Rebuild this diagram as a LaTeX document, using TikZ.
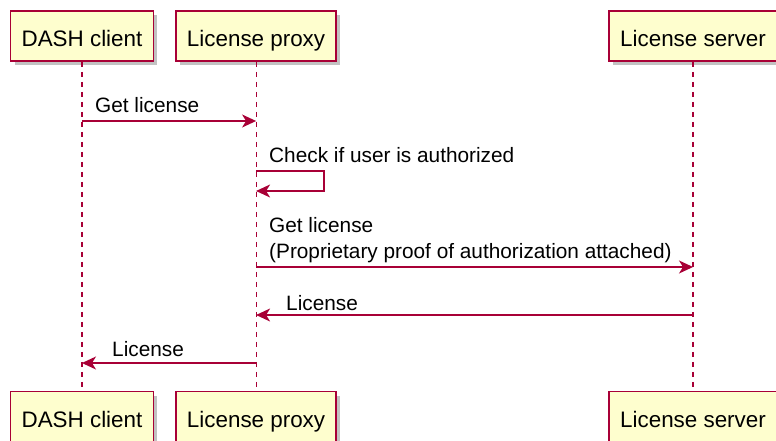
\documentclass[tikz,border=0pt]{standalone}
\usepackage{fontspec}
\setmainfont{Liberation Sans}
\definecolor{UmlRed}{HTML}{A80036}
\definecolor{UmlFill}{HTML}{FEFECE}
\usetikzlibrary{arrows.meta, positioning, shadows}

\begin{document}
\begin{tikzpicture}[
            x=1pt, y=-1pt,
            actor/.style={rectangle, draw=UmlRed, line width=1.6pt, fill=UmlFill,
                          minimum height=50pt, inner xsep=11pt,
                          text height=23pt, text depth=2pt,
                          font=\fontsize{22.4}{26}\selectfont,
                          drop shadow={shadow xshift=4pt, shadow yshift=-4pt, opacity=0.4, fill=black!60}},
            lifeline/.style={UmlRed, line width=1.1pt, dash pattern=on 5pt off 5pt},
            msg/.style={-{Stealth[length=14pt, width=13pt, inset=4pt]}, UmlRed, line width=1.3pt},
            lbl/.style={inner sep=0pt, align=left, font=\fontsize{20.8}{26}\selectfont}
        ]
            \useasboundingbox (0,0) rectangle (776,441);

            \node[actor] (dashTop) at (82,36) {DASH client};
            \node[actor, right=21pt of dashTop] (proxyTop) {License proxy};
            \node[actor] (serverTop) at (693,36) {License server};

            \node[actor, below=329pt of dashTop] (dashBot) {DASH client};
            \node[actor, below=329pt of proxyTop] (proxyBot) {License proxy};
            \node[actor, below=329pt of serverTop] (serverBot) {License server};

            \draw[lifeline] (dashTop) -- (dashBot);
            \draw[lifeline] (proxyTop) -- (proxyBot);
            \draw[lifeline] (serverTop) -- (serverBot);

            % message end points on the lifelines
            \coordinate (c1) at (dashTop |- 0,121);
            \coordinate (p1) at (proxyTop |- 0,121);
            \coordinate (p2) at (proxyTop |- 0,171);
            \coordinate (p3) at (proxyTop |- 0,191);
            \coordinate (p4) at (proxyTop |- 0,267);
            \coordinate (s4) at (serverTop |- 0,267);
            \coordinate (s5) at (serverTop |- 0,315);
            \coordinate (p5) at (proxyTop |- 0,315);
            \coordinate (p6) at (proxyTop |- 0,363);
            \coordinate (c6) at (dashTop |- 0,363);

            \draw[msg] (c1) -- (p1);
            \draw[msg] (p2) -- ++(68,0) |- (p3);
            \draw[msg] (p4) -- (s4);
            \draw[msg] (s5) -- (p5);
            \draw[msg] (p6) -- (c6);

            \node[lbl, anchor=base west] (getLbl) at (95,113) {Get license};
            \node[lbl, anchor=base west] (checkLbl) at (269,162) {Check if user is authorized};
            \node[lbl, anchor=south west] (fwdLbl) at (269,263) {Get license\\(Proprietary proof of authorization attached)};
            \node[lbl, anchor=base west] (retLbl) at (286,310) {License};
            \node[lbl, anchor=base west] (backLbl) at (112,356) {License};
        \end{tikzpicture}
\end{document}
